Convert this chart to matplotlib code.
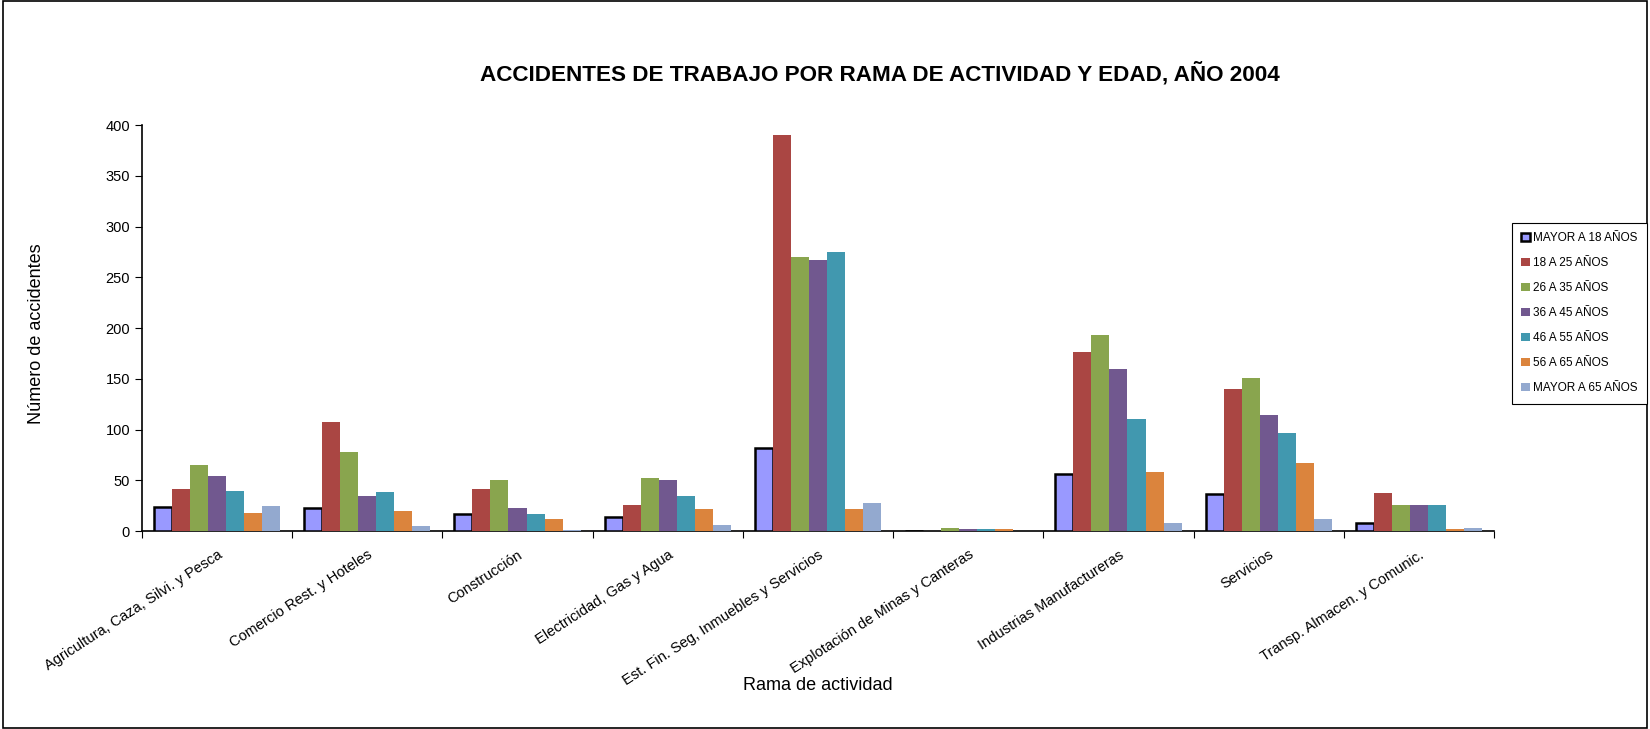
import numpy as np
import matplotlib.pyplot as plt
from matplotlib.patches import Rectangle

plt.rcParams['font.family'] = ['Liberation Sans', 'DejaVu Sans']

# Datos
ramas = ['Agricultura, Caza, Silvi. y Pesca', 'Comercio Rest. y Hoteles',
         'Construcción', 'Electricidad, Gas y Agua',
         'Est. Fin. Seg, Inmuebles y Servicios', 'Explotación de Minas y Canteras',
         'Industrias Manufactureras', 'Servicios', 'Transp. Almacen. y Comunic.']
edades = ['MAYOR A 18 AÑOS', '18 A 25 AÑOS', '26 A 35 AÑOS', '36 A 45 AÑOS',
          '46 A 55 AÑOS', '56 A 65 AÑOS', 'MAYOR A 65 AÑOS']

mayor_18 = [24, 23, 17, 14, 82, 0, 56, 36, 8]
e18_25 = [41, 107, 41, 26, 390, 0, 176, 140, 37]
e26_35 = [65, 78, 50, 52, 270, 3, 193, 151, 26]
e36_45 = [54, 34, 23, 50, 267, 2, 160, 114, 26]
e46_55 = [39, 38, 17, 34, 275, 2, 110, 97, 26]
e56_65 = [18, 20, 12, 22, 22, 2, 58, 67, 2]
mayor_65 = [25, 5, 1, 6, 28, 0, 8, 12, 3]

series = [mayor_18, e18_25, e26_35, e36_45, e46_55, e56_65, mayor_65]
colores = ['#9999FF', '#AA4643', '#89A54E', '#71588F', '#4198AF', '#DB843D', '#93A9CF']

fig = plt.figure(figsize=(16.5, 7.29), dpi=100)
ax = fig.add_axes([0.086, 0.2716, 0.8195, 0.5569])

x = np.arange(len(ramas))
ancho = 0.12
for i, (vals, c) in enumerate(zip(series, colores)):
    pos = x + 0.5 + (i - 3) * ancho
    if i == 0:
        ax.bar(pos, vals, ancho, color=c, edgecolor='black', linewidth=1.8,
               label=edades[i], zorder=3)
    else:
        ax.bar(pos, vals, ancho, color=c, linewidth=0, label=edades[i], zorder=3)

ax.set_xlim(0, len(ramas))
ax.set_ylim(0, 400)
ax.set_yticks(range(0, 401, 50))
ax.set_xticks(np.arange(0, len(ramas) + 1))
ax.set_xticklabels([])
ax.set_xticks(x + 0.5, minor=True)
ax.set_xticklabels(ramas, minor=True, rotation=33, ha='right', rotation_mode='anchor',
                   fontsize=10.5)
ax.tick_params(axis='x', which='minor', length=0, pad=12)
ax.tick_params(axis='x', which='major', length=5, direction='out')
ax.tick_params(axis='y', labelsize=10.5, length=5, direction='out')
for s in ['top', 'right']:
    ax.spines[s].set_visible(False)
ax.spines['left'].set_linewidth(1.2)
ax.spines['bottom'].set_linewidth(1.2)

fig.text(37 / 1650, 1 - 334 / 729, 'Número de accidentes', rotation=90,
         ha='center', va='center', fontsize=13)
fig.text(818 / 1650, 1 - 686 / 729, 'Rama de actividad',
         ha='center', va='center', fontsize=13)

fig.text(880 / 1650, 1 - 74 / 729, 'ACCIDENTES DE TRABAJO POR RAMA DE ACTIVIDAD Y EDAD, AÑO 2004',
         ha='center', va='center', fontsize=16.2, fontweight='bold')

leg = fig.legend(loc='upper left', bbox_to_anchor=(1512 / 1650, 1 - 223 / 729),
                 fontsize=8.5, labelspacing=1.1, handlelength=0.7, handleheight=0.7,
                 handletextpad=0.3, borderpad=0.8, fancybox=False, framealpha=1,
                 edgecolor='black', borderaxespad=0)
leg.get_frame().set_linewidth(0.8)

# marco exterior de la figura
fig.patches.append(Rectangle((0.002, 0.002), 0.996, 0.996, transform=fig.transFigure,
                             fill=False, edgecolor='black', linewidth=1.2))

fig.savefig('out.png', dpi=100)
